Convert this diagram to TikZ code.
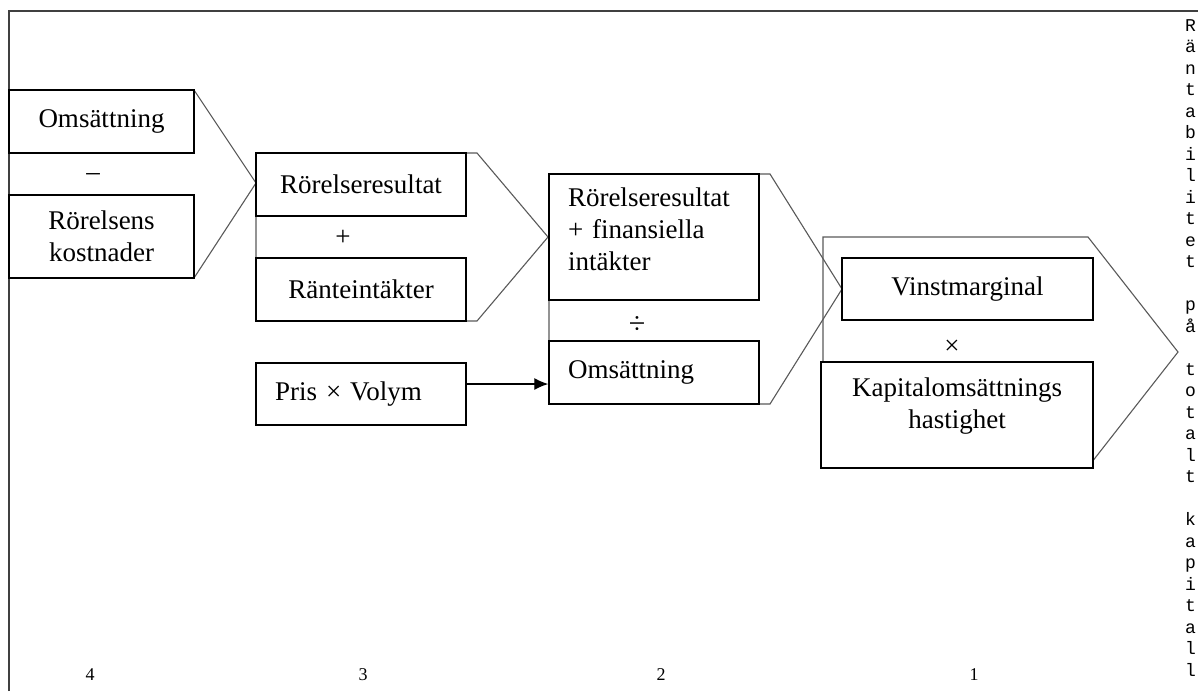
\documentclass[tikz,border=0pt]{standalone}
\usepackage{fontspec}
\setmainfont{Liberation Serif}
\newfontfamily\skrivmaskin{Liberation Mono}
\usetikzlibrary{arrows.meta}

\begin{document}
\begin{tikzpicture}[x=1pt,y=-1pt,
		% rutor med text, vita så att konturen bakom döljs
		ruta/.style={draw=black,line width=1.4pt,fill=white,inner sep=0pt,align=center,font=\fontsize{27}{32}\selectfont},
		vansterruta/.style={ruta,align=left,inner xsep=19pt,text width=172pt,minimum width=210pt},
		kontur/.style={draw=black!65,line width=1.1pt},
		tecken/.style={inner sep=0pt,font=\fontsize{27}{32}\selectfont},
		siffra/.style={inner sep=0pt,font=\fontsize{18}{20}\selectfont}
		]
		\useasboundingbox (0,0) rectangle (1198,691);
		\draw[line width=1.3pt,black!75] (9,691) -- (9,11) -- (1198,11);

		% pilformade konturer
		\draw[kontur] (9,90) -- (194,90) -- (256,183) -- (194,278) -- (9,278);
		\draw[kontur] (256,153) -- (477,153) -- (548,237) -- (477,321) -- (256,321) -- cycle;
		\draw[kontur] (549,174) -- (770,174) -- (842,289) -- (770,404) -- (549,404) -- cycle;
		\draw[kontur] (823,237) -- (1088,237) -- (1178,352) -- (1088,467) -- (823,467) -- cycle;

		\node[ruta,minimum width=185pt,minimum height=63pt] (oms4) at (101.5,121.5) {Omsättning};
		\node[tecken] (minus) at (93,177) {–};
		\node[ruta,minimum width=185pt,minimum height=83pt] (kost4) at (101.5,236.5) {Rörelsens\\kostnader};

		\node[ruta,minimum width=210pt,minimum height=63pt] (rr3) at (361,184.5) {Rörelseresultat};
		\node[tecken] (plus) at (343,238) {+};
		\node[ruta,minimum width=210pt,minimum height=63pt] (rant3) at (361,289.5) {Ränteintäkter};
		\node[vansterruta,minimum height=62pt] (pris) at (361,394) {Pris × Volym};

		\node[vansterruta,minimum height=126pt,text depth=80pt] (rrfin2) at (654,237) {Rörelseresultat\\+ finansiella\\intäkter};
		\node[tecken,font=\fontsize{30}{32}\selectfont] (div) at (637,325) {÷};
		\node[vansterruta,minimum height=63pt] (oms2) at (654,372.5) {Omsättning};

		\node[ruta,minimum width=251pt,minimum height=62pt] (vinst1) at (967.5,289) {Vinstmarginal};
		\node[tecken] (ggr) at (952,347) {×};
		\node[ruta,minimum width=272pt,minimum height=106pt,text depth=24pt] (kap1) at (957,415) {Kapitalomsättnings\\hastighet};

		\draw[-{Latex[length=14pt,width=12pt]},line width=1.3pt] ([yshift=10pt]pris.east) -- ([yshift=10pt]pris.east -| oms2.west);

		\node[anchor=north west,inner sep=0pt,align=left,font=\skrivmaskin\fontsize{18}{21.5}\selectfont] (rantabilitet) at (1185,19)
			{R\\ä\\n\\t\\a\\b\\i\\l\\i\\t\\e\\t\\\mbox{}\\p\\å\\\mbox{}\\t\\o\\t\\a\\l\\t\\\mbox{}\\k\\a\\p\\i\\t\\a\\l\\l};

		\node[siffra] (nr4) at (90,675) {4};
		\node[siffra] (nr3) at (363,675) {3};
		\node[siffra] (nr2) at (661,675) {2};
		\node[siffra] (nr1) at (974,675) {1};
	\end{tikzpicture}
\end{document}
